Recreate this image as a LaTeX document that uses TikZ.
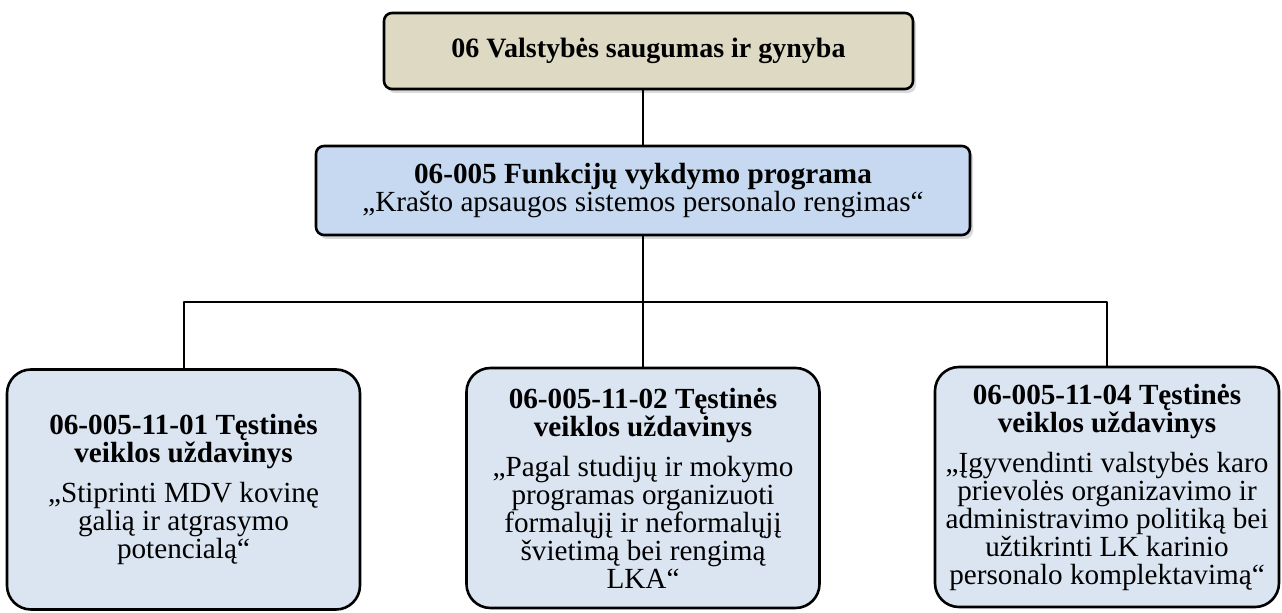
\documentclass[tikz,border=0pt]{standalone}
\usepackage{fontspec}
\setmainfont{Liberation Serif}
\usetikzlibrary{shadows}
\definecolor{sectortan}{HTML}{DDD9C3}
\definecolor{progblue}{HTML}{C6D9F1}
\definecolor{taskblue}{HTML}{DBE5F1}
\newcommand{\boxfont}{\fontsize{14.6}{14}\selectfont\lineskiplimit-20pt\relax}
\begin{document}
\begin{tikzpicture}[x=0.5pt, y=-0.5pt, line join=round, line cap=round,
    font=\boxfont,
    box/.style={draw, line width=1.3pt, align=center, inner sep=2pt},
    shade/.style={drop shadow={opacity=0.3, shadow xshift=1.5pt, shadow yshift=-2pt}},
    task/.style={box, fill=taskblue, rounded corners=12pt, minimum width=176.5pt, minimum height=120pt},
    link/.style={line width=1pt}]
  \useasboundingbox (0,0) rectangle (1282,613);
  % levels
  \node[box, shade, fill=sectortan, rounded corners=4pt, minimum width=264.5pt, minimum height=38pt,
    font=\fontsize{14}{14}\selectfont] (sector) at (648.5,51)
    {\textbf{06 Valstybės saugumas ir gynyba}};
  \node[box, shade, fill=progblue, rounded corners=4pt, minimum width=327pt, minimum height=44.5pt] (prog) at (643,190.5)
    {\textbf{06-005 Funkcijų vykdymo programa}\\„Krašto apsaugos sistemos personalo rengimas“};
  \node[task] (taskA) at (183.5,489.5)
    {\textbf{06-005-11-01 Tęstinės}\\\textbf{veiklos uždavinys}\\[6pt]„Stiprinti MDV kovinę\\galią ir atgrasymo\\potencialą“};
  \node[task] (taskB) at (643,488)
    {\textbf{06-005-11-02 Tęstinės}\\\textbf{veiklos uždavinys}\\[6pt]„Pagal studijų ir mokymo\\programas organizuoti\\formalųjį ir neformalųjį\\švietimą bei rengimą\\LKA“};
  \node[task, minimum width=172pt] (taskC) at (1107,487)
    {\textbf{06-005-11-04 Tęstinės}\\\textbf{veiklos uždavinys}\\[6pt]„Įgyvendinti valstybės karo\\prievolės organizavimo ir\\administravimo politiką bei\\užtikrinti LK karinio\\personalo komplektavimą“};
  % connectors
  \coordinate (hub) at (643,302);
  \draw[link] (sector.south -| prog.north) -- (prog.north);
  \draw[link] (prog.south) -- (hub);
  \draw[link] (hub) -| (taskA.north);
  \draw[link] (hub) -- (taskB.north);
  \draw[link] (hub) -| (taskC.north);
\end{tikzpicture}
\end{document}
